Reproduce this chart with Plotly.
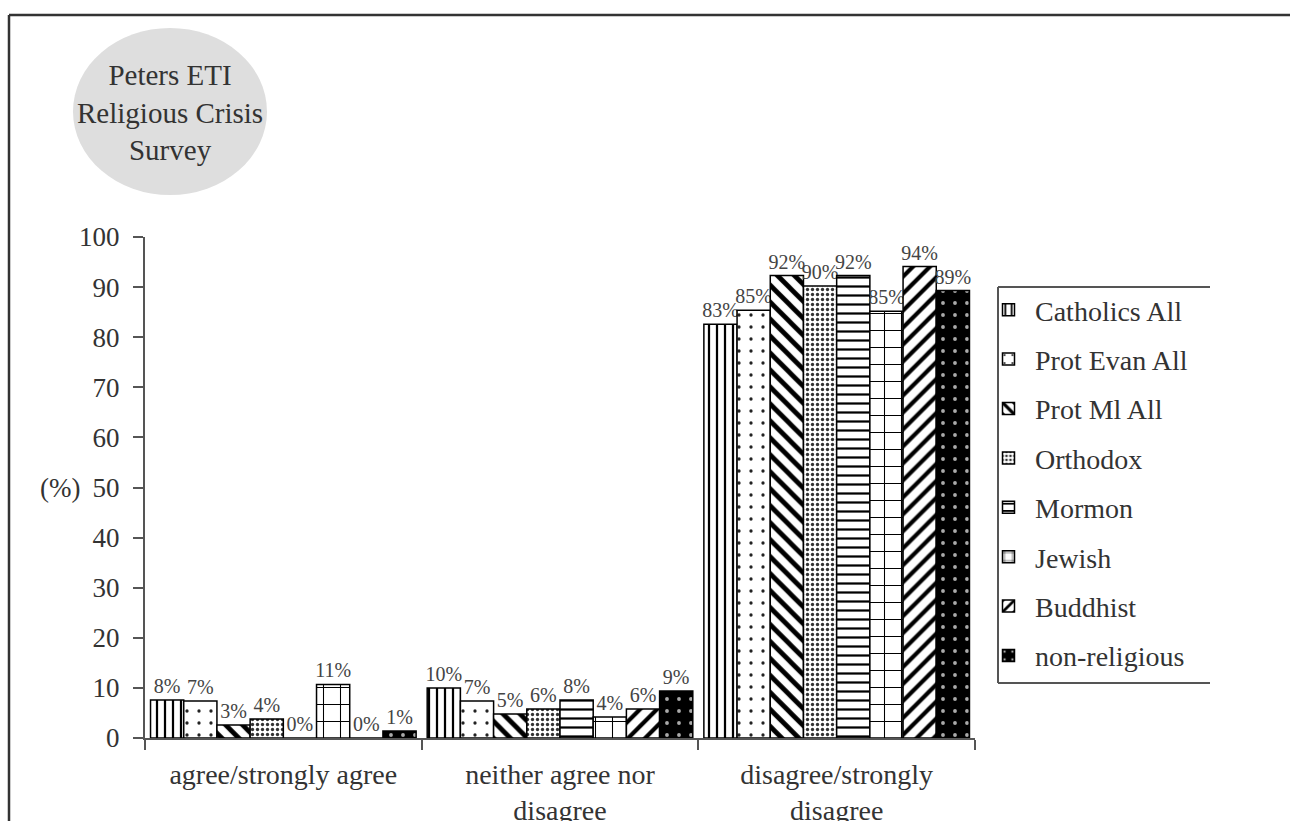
import plotly.graph_objects as go

categories = ["agree/strongly agree", "neither agree nor<br>disagree", "disagree/strongly<br>disagree"]
series_names = ["Catholics All", "Prot Evan All", "Prot Ml All", "Orthodox", "Mormon", "Jewish", "Buddhist", "non-religious"]

catholics_all = [7.6, 10.0, 82.6]
prot_evan_all = [7.4, 7.4, 85.4]
prot_ml_all = [2.6, 4.8, 92.3]
orthodox = [3.8, 5.8, 90.2]
mormon = [0.0, 7.6, 92.3]
jewish = [10.7, 4.2, 85.2]
buddhist = [0.0, 5.8, 94.1]
non_religious = [1.4, 9.4, 89.3]

series_values = [catholics_all, prot_evan_all, prot_ml_all, orthodox, mormon, jewish, buddhist, non_religious]

y_ticks = [0, 10, 20, 30, 40, 50, 60, 70, 80, 90, 100]

# pattern styles: (shape, size, solidity, bgcolor, fgcolor)
styles = [
    ("|", 8, 0.28, "white", "black"),
    (".", 12, 0.06, "white", "#222"),
    ("\\", 12, 0.4, "white", "black"),
    (".", 5, 0.35, "white", "#333"),
    ("-", 9, 0.25, "white", "black"),
    ("+", 17, 0.12, "white", "black"),
    ("/", 12, 0.35, "white", "black"),
    (".", 12, 0.08, "black", "#aaa"),
]

FONT = "Liberation Serif"
TXT = "#333"

# pixel -> paper conversion helpers
PL, PR, PT, PB = 145, 975, 237, 738
def px(x):
    return (x - PL) / (PR - PL)
def py(y):
    return (PB - y) / (PB - PT)

fig = go.Figure()
for i, (name, vals) in enumerate(zip(series_names, series_values)):
    shp, sz, sol, bg, fg = styles[i]
    fig.add_trace(go.Bar(
        name=name,
        x=categories,
        y=vals,
        text=[f"{round(v)}%" for v in vals],
        textposition="outside",
        textfont=dict(family=FONT, size=20, color="#444"),
        constraintext="none",
        cliponaxis=False,
        legendgroup=name,
        marker=dict(
            color=bg,
            line=dict(color="black", width=1.5),
            pattern=dict(shape=shp, size=sz, solidity=sol, bgcolor=bg, fgcolor=fg, fillmode="replace"),
        ),
    ))

fig.update_layout(
    width=1290, height=821,
    margin=dict(l=PL, r=1290 - PR, t=PT, b=821 - PB, pad=0, autoexpand=False),
    paper_bgcolor="white", plot_bgcolor="white",
    barmode="group", bargap=0.04, bargroupgap=0,
    font=dict(family=FONT, size=28, color=TXT),
    showlegend=True,
    legend=dict(
        x=px(982), y=py(285), xanchor="left", yanchor="top",
        font=dict(family=FONT, size=28, color=TXT),
        itemwidth=43,
        tracegroupgap=10, bgcolor="rgba(0,0,0,0)", borderwidth=0,
    ),
    xaxis=dict(
        range=[-0.5, 2.5], showline=True, linecolor="#555", linewidth=2,
        ticks="outside", tickson="boundaries", ticklen=10, tickcolor="#555", tickwidth=2,
        tickfont=dict(family=FONT, size=28, color=TXT), ticklabelstandoff=10,
        showgrid=False, zeroline=False, automargin=False,
    ),
    yaxis=dict(
        range=[0, 100], tickvals=y_ticks, showline=True, linecolor="#555", linewidth=2,
        ticks="outside", ticklen=10, tickcolor="#555", tickwidth=2,
        tickfont=dict(family=FONT, size=27, color=TXT), ticklabelstandoff=8,
        showgrid=False, zeroline=False, automargin=False,
    ),
)

shapes = [
    # grey ellipse badge
    dict(type="circle", xref="paper", yref="paper", x0=px(73), x1=px(267), y0=py(195), y1=py(28),
         fillcolor="#dedede", line=dict(width=0), layer="below"),
    # outer frame (left & top)
    dict(type="line", xref="paper", yref="paper", x0=px(9), x1=px(9), y0=py(15), y1=py(840),
         line=dict(color="#333", width=2.5)),
    dict(type="line", xref="paper", yref="paper", x0=px(9), x1=px(1300), y0=py(15), y1=py(15),
         line=dict(color="#333", width=2.5)),
    # legend box (left, top, bottom)
    dict(type="line", xref="paper", yref="paper", x0=px(998), x1=px(998), y0=py(287), y1=py(683),
         line=dict(color="#555", width=2)),
    dict(type="line", xref="paper", yref="paper", x0=px(998), x1=px(1210), y0=py(287), y1=py(287),
         line=dict(color="#555", width=2)),
    dict(type="line", xref="paper", yref="paper", x0=px(998), x1=px(1210), y0=py(683), y1=py(683),
         line=dict(color="#555", width=2)),
]
fig.update_layout(shapes=shapes)

fig.add_annotation(xref="paper", yref="paper", x=px(170), y=py(113),
                   text="Peters ETI<br>Religious Crisis<br>Survey", showarrow=False,
                   font=dict(family=FONT, size=29, color=TXT), xanchor="center", yanchor="middle")
fig.add_annotation(xref="paper", yref="paper", x=px(60), y=py(488), text="(%)", showarrow=False,
                   font=dict(family=FONT, size=27, color=TXT), xanchor="center", yanchor="middle")

fig.write_html("out.html")
